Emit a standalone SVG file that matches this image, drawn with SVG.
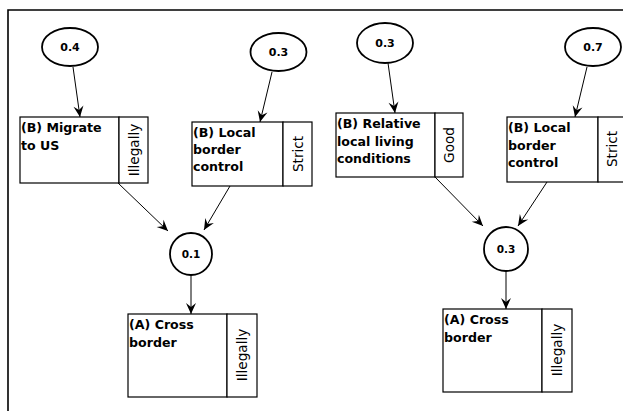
<svg xmlns="http://www.w3.org/2000/svg" width="623" height="411" viewBox="0 0 623 411">
<style>
.frame{fill:none;stroke:#000;stroke-width:1.6}
.box{fill:#fff;stroke:#000;stroke-width:1.2}
.ell{fill:#fff;stroke:#000;stroke-width:1.8}
.con{fill:none;stroke:#000;stroke-width:1}
.lbl{font-family:"DejaVu Sans",Verdana,sans-serif;font-weight:bold;font-size:12.6px;fill:#000}
.st{font-family:"DejaVu Sans",Verdana,sans-serif;font-size:13.6px;fill:#000;text-anchor:middle;dominant-baseline:central}
.num{font-family:"DejaVu Sans",Verdana,sans-serif;font-weight:bold;font-size:11px;fill:#000;text-anchor:middle;dominant-baseline:central}
</style>
<defs>
<marker id="arr" markerUnits="userSpaceOnUse" markerWidth="14" markerHeight="14" viewBox="-12 -7 14 14" refX="0" refY="0" orient="auto">
<path d="M0,0 L-11,-5 L-7,0 L-11,5 Z" fill="#000"/>
</marker>
</defs>
<rect width="623" height="411" fill="#fff"/>
<path class="frame" d="M8,411 L8,10 L623,10"/>
<g id="connectors">
<line class="con" x1="73" y1="67" x2="80" y2="117" marker-end="url(#arr)"/>
<line class="con" x1="272" y1="72" x2="260" y2="122" marker-end="url(#arr)"/>
<line class="con" x1="388" y1="63" x2="395" y2="113" marker-end="url(#arr)"/>
<line class="con" x1="587" y1="67" x2="575" y2="117" marker-end="url(#arr)"/>
<line class="con" x1="118" y1="183" x2="168" y2="231" marker-end="url(#arr)"/>
<line class="con" x1="230" y1="186" x2="204" y2="230" marker-end="url(#arr)"/>
<line class="con" x1="191" y1="275" x2="191" y2="314" marker-end="url(#arr)"/>
<line class="con" x1="435" y1="177" x2="483" y2="226" marker-end="url(#arr)"/>
<line class="con" x1="547" y1="182" x2="518" y2="226" marker-end="url(#arr)"/>
<line class="con" x1="506" y1="271" x2="506" y2="309" marker-end="url(#arr)"/>
</g>
<g id="p04"><ellipse class="ell" cx="70" cy="47" rx="28" ry="19"/><text class="num" x="70" y="47">0.4</text></g>
<g id="p03a"><ellipse class="ell" cx="278.5" cy="52" rx="28" ry="19"/><text class="num" x="278.5" y="52">0.3</text></g>
<g id="p03b"><ellipse class="ell" cx="385" cy="43" rx="28" ry="20"/><text class="num" x="385" y="43">0.3</text></g>
<g id="p07"><ellipse class="ell" cx="593" cy="47" rx="28" ry="19"/><text class="num" x="593" y="47">0.7</text></g>
<g id="p01"><circle class="ell" cx="191" cy="254" r="21"/><text class="num" x="191" y="254" style="font-size:10.5px">0.1</text></g>
<g id="p03c"><circle class="ell" cx="506" cy="249" r="22"/><text class="num" x="506" y="249" style="font-size:10.5px">0.3</text></g>
<g id="migrate">
<rect class="box" x="20" y="117" width="99" height="66"/><rect class="box" x="119" y="117" width="29" height="66"/>
<text class="lbl" x="21" y="132">(B) Migrate</text><text class="lbl" x="21" y="150">to US</text>
<text class="st" transform="translate(133.5 150) rotate(-90)">Illegally</text>
</g>
<g id="border1">
<rect class="box" x="192" y="122" width="91" height="64"/><rect class="box" x="283" y="122" width="29" height="64"/>
<text class="lbl" x="193" y="137">(B) Local</text><text class="lbl" x="193" y="154">border</text><text class="lbl" x="193" y="171">control</text>
<text class="st" transform="translate(297.5 154) rotate(-90)">Strict</text>
</g>
<g id="living">
<rect class="box" x="336" y="113" width="99" height="64"/><rect class="box" x="435" y="113" width="28" height="64"/>
<text class="lbl" x="337" y="128">(B) Relative</text><text class="lbl" x="337" y="146">local living</text><text class="lbl" x="337" y="163">conditions</text>
<text class="st" transform="translate(449 145) rotate(-90)">Good</text>
</g>
<g id="border2">
<rect class="box" x="507" y="117" width="91" height="65"/><rect class="box" x="598" y="117" width="30" height="65"/>
<text class="lbl" x="508" y="132">(B) Local</text><text class="lbl" x="508" y="150">border</text><text class="lbl" x="508" y="167">control</text>
<text class="st" transform="translate(612 149) rotate(-90)">Strict</text>
</g>
<g id="cross1">
<rect class="box" x="128" y="314" width="99" height="83"/><rect class="box" x="227" y="314" width="30" height="83"/>
<text class="lbl" x="129" y="329">(A) Cross</text><text class="lbl" x="129" y="347">border</text>
<text class="st" transform="translate(242 355) rotate(-90)">Illegally</text>
</g>
<g id="cross2">
<rect class="box" x="443" y="309" width="99" height="83"/><rect class="box" x="542" y="309" width="30" height="83"/>
<text class="lbl" x="444" y="324">(A) Cross</text><text class="lbl" x="444" y="342">border</text>
<text class="st" transform="translate(557 350) rotate(-90)">Illegally</text>
</g>
</svg>
